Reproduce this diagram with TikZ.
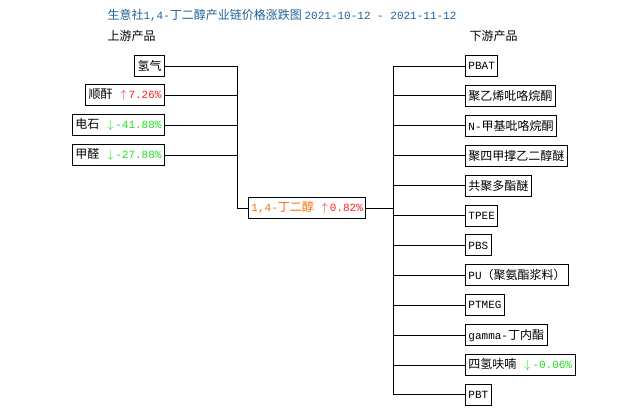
\documentclass[tikz,border=0pt]{standalone}
\usepackage{fontspec}
\setmainfont{Noto Sans CJK SC}
\newfontfamily\numfont{Liberation Mono}
\usetikzlibrary{positioning}
\definecolor{titleblue}{HTML}{1F5F99}
\definecolor{upred}{HTML}{FF2020}
\definecolor{downgreen}{HTML}{22DD22}
\definecolor{mainorange}{HTML}{FF6A00}
\tikzset{
  font=\fontsize{12pt}{14pt}\selectfont,
  % product box
  prod/.style={draw, line width=0.9pt, inner sep=3pt, minimum height=21pt},
  % upstream box
  up/.style={prod, anchor=east},
  % downstream box
  down/.style={prod, anchor=west},
  % connector lines
  link/.style={line width=0.9pt},
}
\newcommand{\num}[1]{{\numfont\fontsize{11pt}{13pt}\selectfont #1}}
\newcommand{\rise}[1]{\hspace{8pt}\textcolor{upred}{$\uparrow$\,\num{#1}}}
\newcommand{\fall}[1]{\hspace{8pt}\textcolor{downgreen}{$\downarrow$\,\num{#1}}}
\begin{document}
\begin{tikzpicture}[x=1pt, y=-1pt]
  \useasboundingbox (0,0) rectangle (630,415);

  \node[titleblue, anchor=west] (title) at (104,15)
    {生意社\num{1,4-}丁二醇产业链价格涨跌图 \num{2021-10-12 - 2021-11-12}};
  \node[anchor=west] (uplabel) at (104,36) {上游产品};
  \node[anchor=west] (downlabel) at (466,36) {下游产品};

  % upstream
  \node[up] (h2) at (165,66) {氢气};
  \node[up] (mah) at (165,95) {顺酐\rise{7.26\%}};
  \node[up] (cac) at (165,125) {电石\fall{-41.88\%}};
  \node[up] (hcho) at (165,155) {甲醛\fall{-27.88\%}};

  % main product
  \node[prod, anchor=west] (bdo) at (248,208)
    {\textcolor{mainorange}{\num{1,4-}丁二醇}\rise{0.82\%}};

  \coordinate (lj) at (237,208);
  \coordinate (rj) at (393,208);

  \foreach \n in {h2, mah, cac, hcho}
    \draw[link] (\n.east) -| (lj);
  \draw[link] (lj) -- (bdo.west);
  \draw[link] (bdo.east) -- (rj);

  % downstream
  \foreach \i/\n/\t in {0/pbat/\num{PBAT}, 1/pvp/聚乙烯吡咯烷酮, 2/nmp/\num{N-}甲基吡咯烷酮,
      3/ptmeg2/聚四甲撑乙二醇醚, 4/cpe/共聚多酯醚, 5/tpee/\num{TPEE}, 6/pbs/\num{PBS},
      7/pu/\num{PU}（聚氨酯浆料）, 8/ptmeg/\num{PTMEG}, 9/gbl/\num{gamma-}丁内酯,
      10/thf/四氢呋喃\fall{-0.06\%}, 11/pbt/\num{PBT}} {
    \node[down] (\n) at (465,{66+29.9*\i}) {\t};
    \draw[link] (rj) |- (\n.west);
  }
\end{tikzpicture}
\end{document}
